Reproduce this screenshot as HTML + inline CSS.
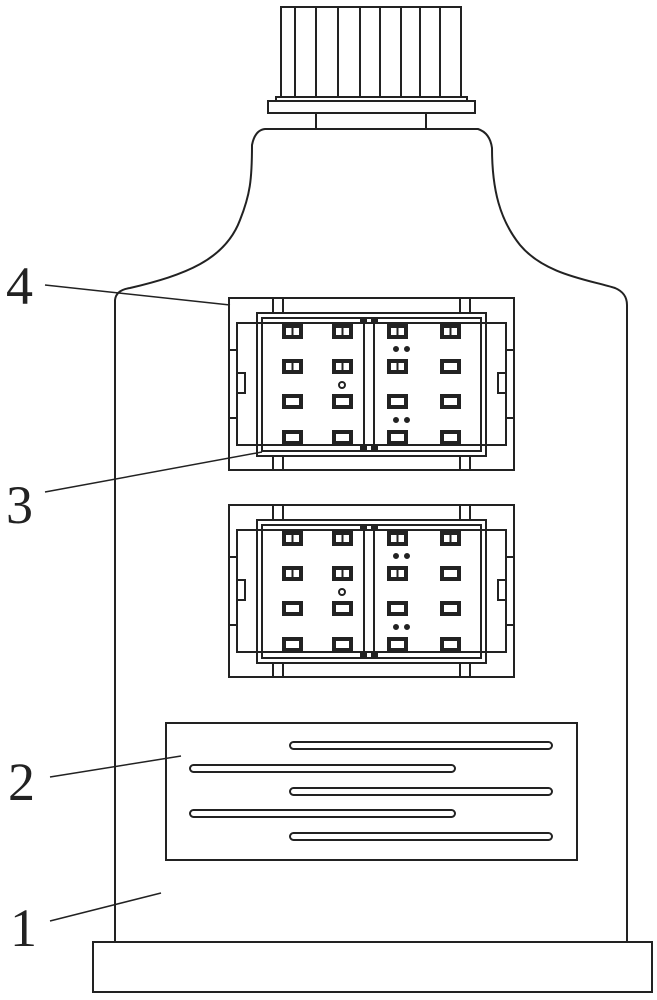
<!DOCTYPE html>
<html><head><meta charset="utf-8"><style>html,body{margin:0;padding:0;background:#fff}svg{display:block}</style></head>
<body>
<svg width="657" height="1000" viewBox="0 0 657 1000" xmlns="http://www.w3.org/2000/svg" fill="none" stroke="#222" stroke-width="2">
<rect x="281" y="7" width="180" height="90"/>
<g stroke-width="2">
<line x1="295" y1="7" x2="295" y2="97"/><line x1="316" y1="7" x2="316" y2="97"/><line x1="338" y1="7" x2="338" y2="97"/><line x1="360" y1="7" x2="360" y2="97"/><line x1="380" y1="7" x2="380" y2="97"/><line x1="401" y1="7" x2="401" y2="97"/><line x1="420" y1="7" x2="420" y2="97"/><line x1="440" y1="7" x2="440" y2="97"/>
</g>
<rect x="276" y="97" width="191" height="4"/>
<rect x="268" y="101" width="207" height="12"/>
<line x1="316" y1="113" x2="316" y2="129"/><line x1="426" y1="113" x2="426" y2="129"/>
<path d="M115,942 L115,300 Q116,290 130,288 C185,275 225,260 240,220 C250,195 252,180 252,145 Q255,130 265,129 L478,129 Q490,133 492,148 C492,190 500,220 520,245 C545,275 590,280 615,288 Q627,293 627,305 L627,942"/>
<rect x="93" y="942" width="559" height="50"/>
<g id="m">
<rect x="229" y="298" width="285" height="172"/>
<rect x="237" y="323" width="269" height="122"/>
<rect x="257" y="313" width="229" height="143"/>
<rect x="262" y="318" width="219" height="133"/>
<rect x="364" y="318" width="10" height="133"/>
<rect x="361" y="318" width="5" height="5" fill="#222"/><rect x="372" y="318" width="5" height="5" fill="#222"/>
<rect x="361" y="446" width="5" height="5" fill="#222"/><rect x="372" y="446" width="5" height="5" fill="#222"/>
<line x1="273" y1="298" x2="273" y2="313"/><line x1="283" y1="298" x2="283" y2="313"/>
<line x1="460" y1="298" x2="460" y2="313"/><line x1="470" y1="298" x2="470" y2="313"/>
<line x1="273" y1="456" x2="273" y2="470"/><line x1="283" y1="456" x2="283" y2="470"/>
<line x1="460" y1="456" x2="460" y2="470"/><line x1="470" y1="456" x2="470" y2="470"/>
<rect x="237" y="373" width="8" height="20"/><rect x="498" y="373" width="8" height="20"/>
<line x1="229" y1="350" x2="237" y2="350"/><line x1="229" y1="418" x2="237" y2="418"/>
<line x1="506" y1="350" x2="514" y2="350"/><line x1="506" y1="418" x2="514" y2="418"/>
<g stroke-width="4">
<rect x="284" y="326" width="17" height="11"/><rect x="334" y="326" width="17" height="11"/><rect x="389" y="326" width="17" height="11"/><rect x="442" y="326" width="17" height="11"/>
<rect x="284" y="361" width="17" height="11"/><rect x="334" y="361" width="17" height="11"/><rect x="389" y="361" width="17" height="11"/><rect x="442" y="361" width="17" height="11"/>
<rect x="284" y="396" width="17" height="11"/><rect x="334" y="396" width="17" height="11"/><rect x="389" y="396" width="17" height="11"/><rect x="442" y="396" width="17" height="11"/>
<rect x="284" y="432" width="17" height="11"/><rect x="334" y="432" width="17" height="11"/><rect x="389" y="432" width="17" height="11"/><rect x="442" y="432" width="17" height="11"/>
</g>
<g stroke-width="2">
<line x1="292.5" y1="328" x2="292.5" y2="335"/><line x1="342.5" y1="328" x2="342.5" y2="335"/><line x1="397.5" y1="328" x2="397.5" y2="335"/><line x1="450.5" y1="328" x2="450.5" y2="335"/>
<line x1="292.5" y1="363" x2="292.5" y2="370"/><line x1="342.5" y1="363" x2="342.5" y2="370"/><line x1="397.5" y1="363" x2="397.5" y2="370"/>
</g>
<circle cx="342" cy="385" r="3" stroke-width="2"/>
<circle cx="396" cy="349" r="2" fill="#222"/><circle cx="407" cy="349" r="2" fill="#222"/>
<circle cx="396" cy="420" r="2" fill="#222"/><circle cx="407" cy="420" r="2" fill="#222"/>
</g>
<use href="#m" transform="translate(0,207)"/>
<rect x="166" y="723" width="411" height="137"/>
<g stroke-width="2">
<rect x="290" y="742" width="262" height="7" rx="3.5"/>
<rect x="190" y="765" width="265" height="7" rx="3.5"/>
<rect x="290" y="788" width="262" height="7" rx="3.5"/>
<rect x="190" y="810" width="265" height="7" rx="3.5"/>
<rect x="290" y="833" width="262" height="7" rx="3.5"/>
</g>
<g stroke-width="1.5">
<line x1="45" y1="285" x2="230" y2="305"/>
<line x1="45" y1="492" x2="262" y2="452"/>
<line x1="50" y1="777" x2="181" y2="756"/>
<line x1="50" y1="921" x2="161" y2="893"/>
</g>
<g fill="#222" stroke="none" font-family="'Liberation Serif', serif" font-size="54">
<text x="6" y="304">4</text>
<text x="6" y="523">3</text>
<text x="8" y="800">2</text>
<text x="10" y="946">1</text>
</g>
</svg>
</body></html>
